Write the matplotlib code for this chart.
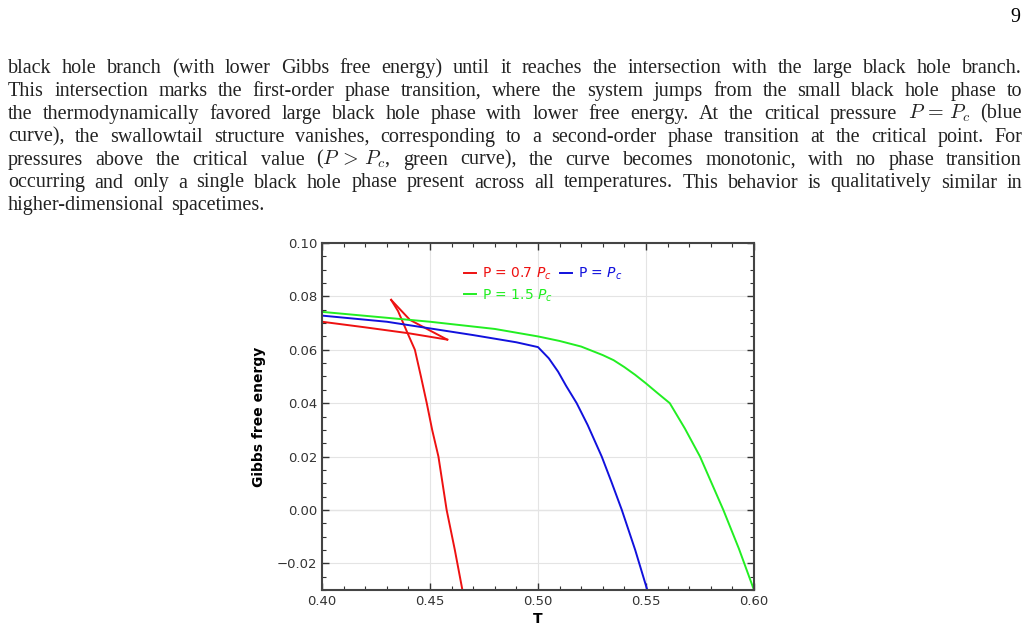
import matplotlib
matplotlib.use("Agg")
import matplotlib.pyplot as plt
from matplotlib.ticker import MultipleLocator, FuncFormatter

# ---- data ----
red_small_T = [0.40, 0.42, 0.44, 0.458]
red_small_G = [0.0705, 0.0684, 0.0662, 0.0638]
red_mid_T = [0.458, 0.45, 0.4407, 0.432]
red_mid_G = [0.0638, 0.0672, 0.0712, 0.0787]
red_large_T = [0.432, 0.4352, 0.4376, 0.4400, 0.443, 0.4458, 0.4485, 0.451, 0.4539, 0.4577, 0.4615, 0.465]
red_large_G = [0.0787, 0.0745, 0.070, 0.0655, 0.060, 0.050, 0.040, 0.030, 0.020, 0.000, -0.015, -0.030]
blue_T = [0.40, 0.43, 0.45, 0.47, 0.49, 0.50, 0.505, 0.5093, 0.513, 0.5179, 0.523, 0.5295, 0.534, 0.5388, 0.545, 0.5506]
blue_G = [0.0728, 0.0705, 0.068, 0.0655, 0.0628, 0.061, 0.0568, 0.0518, 0.0465, 0.040, 0.0318, 0.020, 0.0105, 0.000, -0.015, -0.030]
green_T = [0.40, 0.45, 0.48, 0.50, 0.51, 0.52, 0.53, 0.535, 0.54, 0.545, 0.55, 0.555, 0.561, 0.568, 0.575, 0.5858, 0.593, 0.60]
green_G = [0.0742, 0.0705, 0.0678, 0.065, 0.0633, 0.0612, 0.058, 0.0561, 0.0535, 0.0506, 0.0474, 0.0440, 0.040, 0.0305, 0.020, 0.000, -0.0145, -0.030]
labels = ["P = 0.7 $P_c$", "P = $P_c$", "P = 1.5 $P_c$"]

W, H = 1029, 633
fig = plt.figure(figsize=(W / 100, H / 100), dpi=100)

# ---- page text ----
lines = [
    "black hole branch (with lower Gibbs free energy) until it reaches the intersection with the large black hole branch.",
    "This intersection marks the first-order phase transition, where the system jumps from the small black hole phase to",
    "the thermodynamically favored large black hole phase with lower free energy. At the critical pressure $P\\,=\\,P_c$ (blue",
    "curve), the swallowtail structure vanishes, corresponding to a second-order phase transition at the critical point. For",
    "pressures above the critical value ($P\\,>\\,P_c$, green curve), the curve becomes monotonic, with no phase transition",
    "occurring and only a single black hole phase present across all temperatures. This behavior is qualitatively similar in",
    "higher-dimensional spacetimes.",
]
renderer = fig.canvas.get_renderer()
left_px, right_px = 8, 1022
base0, step = 73, 22.9
fs = 14.5
for i, line in enumerate(lines):
    words = line.split(" ")
    y = 1 - (base0 + i * step) / H
    objs = [fig.text(0, y, w, fontsize=fs, family="Liberation Serif", va="baseline",
                     color="#222222", math_fontfamily="cm") for w in words]
    widths = [o.get_window_extent(renderer).width for o in objs]
    if i < len(lines) - 1:
        gap = (right_px - left_px - sum(widths)) / (len(words) - 1)
    else:
        gap = 6.5
    x = left_px
    for o, wd in zip(objs, widths):
        o.set_x(x / W)
        x += wd + gap
fig.text(1015 / W, 1 - 22 / H, "9", fontsize=fs, family="Liberation Serif", va="baseline", ha="center")

# ---- chart ----
ax = fig.add_axes([322 / W, 1 - 590 / H, (754 - 322) / W, (590 - 243) / H])
lw = 1.4
ax.plot(red_small_T, red_small_G, color="#ee1111", lw=lw)
ax.plot(red_mid_T, red_mid_G, color="#ee1111", lw=lw)
l1, = ax.plot(red_large_T, red_large_G, color="#ee1111", lw=lw)
l2, = ax.plot(blue_T, blue_G, color="#1111dd", lw=lw)
l3, = ax.plot(green_T, green_G, color="#22ee22", lw=lw)
ax.axhline(0, color="#aaaaaa", lw=0.8, zorder=0)
ax.set_xlim(0.40, 0.60)
ax.set_ylim(-0.03, 0.10)
ax.xaxis.set_major_locator(MultipleLocator(0.05))
ax.xaxis.set_minor_locator(MultipleLocator(0.01))
ax.yaxis.set_major_locator(MultipleLocator(0.02))
ax.yaxis.set_minor_locator(MultipleLocator(0.005))
ax.xaxis.set_major_formatter(FuncFormatter(lambda v, p: f"{v:.2f}"))
ax.yaxis.set_major_formatter(FuncFormatter(lambda v, p: f"{v:.2f}".replace("-", "\u2212") if abs(v) > 1e-9 else "0.00"))
ax.grid(True, which="major", color="#e4e4e4", lw=0.8)
ax.set_axisbelow(True)
ax.tick_params(which="both", direction="in", top=True, right=True, color="#333333",
               labelsize=9.5, labelcolor="#333333")
ax.tick_params(which="major", length=5, width=1)
ax.tick_params(which="minor", length=3, width=0.8)
for s in ax.spines.values():
    s.set_color("#444444")
    s.set_linewidth(1.5)
ax.set_xlabel("T", fontsize=10, fontweight="bold", labelpad=3)
ax.set_ylabel("Gibbs free energy", fontsize=10, fontweight="bold", labelpad=8)

leg = ax.legend([l1, l3, l2], [labels[0], labels[2], labels[1]], ncol=2, frameon=False,
                loc="upper left", bbox_to_anchor=(0.315, 0.95), fontsize=10,
                handlelength=0.9, handletextpad=0.4, columnspacing=0.5,
                labelspacing=0.35, borderaxespad=0)
for t, c in zip(leg.get_texts(), ["#ee1111", "#22ee22", "#1111dd"]):
    t.set_color(c)
    t.set_fontfamily("DejaVu Sans")
    t.set_math_fontfamily("dejavusans")
fig.savefig("out.png", dpi=100)
